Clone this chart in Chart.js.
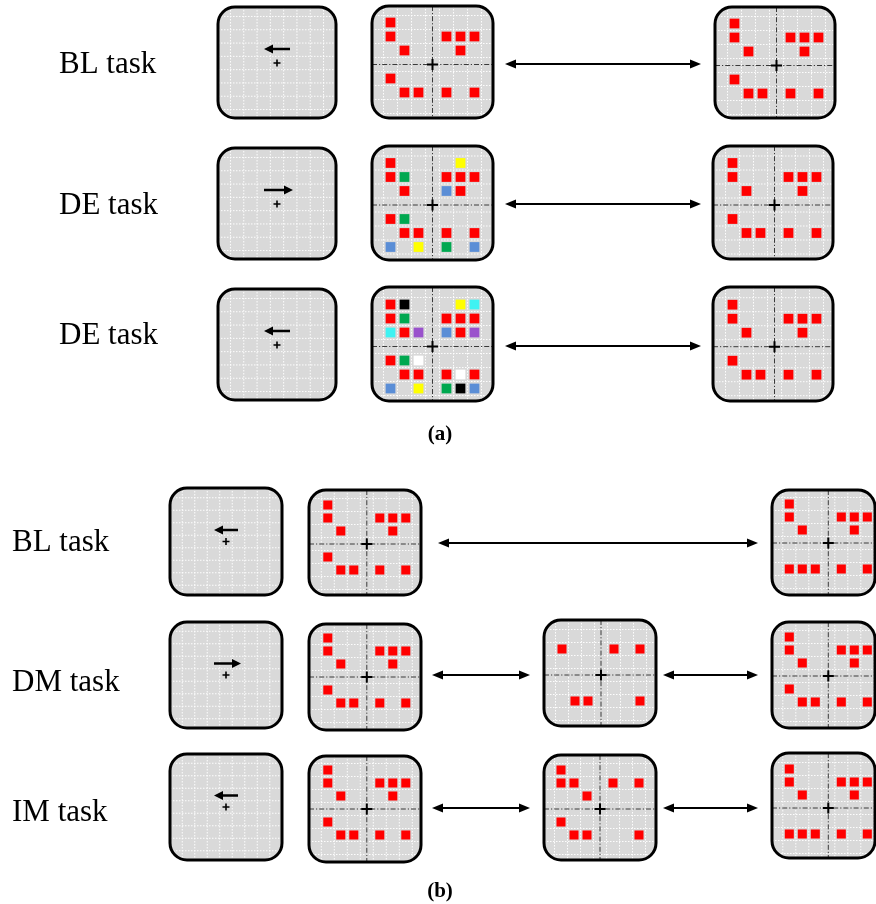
<!DOCTYPE html>
<html>
<head>
<meta charset="utf-8">
<script src="https://cdn.jsdelivr.net/npm/chart.js@4/dist/chart.umd.min.js"></script>
<style>
  html, body { margin: 0; padding: 0; background: #ffffff; }
  #wrap { width: 876px; height: 904px; }
</style>
</head>
<body>
<div id="wrap"><canvas id="c" width="876" height="904"></canvas></div>
<script>
// Row captions
const rowLabelsA = ['BL task', 'DE task', 'DE task'];
const rowLabelsB = ['BL task', 'DM task', 'IM task'];
const partLabels = ['(a)', '(b)'];
// Direction of the cue arrow in each row
const cueA = ['left', 'right', 'left'];
const cueB = ['left', 'right', 'left'];

// Square positions in grid cells relative to the fixation cross (x to the right, y downward)
const targetRed = [[-3,-3],[-3,-2],[-2,-1],[1,-2],[2,-2],[3,-2],[2,-1],[-3,1],[-2,2],[-1,2],[1,2],[3,2]];
const de1Yellow = [[2,-3],[-1,3]];
const de1Green  = [[-2,-2],[-2,1],[1,3]];
const de1Blue   = [[1,-1],[-3,3],[3,3]];
const de2Black  = [[-2,-3],[2,3]];
const de2Yellow = [[2,-3],[-1,3]];
const de2Cyan   = [[3,-3],[-3,-1]];
const de2Green  = [[-2,-2],[-2,1],[1,3]];
const de2Purple = [[-1,-1],[3,-1]];
const de2Blue   = [[1,-1],[-3,3],[3,3]];
const de2White  = [[-1,1],[2,2]];
const dmProbe   = [[-3,-2],[1,-2],[3,-2],[-2,2],[-1,2],[3,2]];
const imProbe   = [[-3,-3],[-3,-2],[-2,-2],[-1,-1],[1,-2],[3,-2],[-3,1],[-2,2],[-1,2],[3,2]];
const recallB   = [[-3,-3],[-3,-2],[-2,-1],[1,-2],[2,-2],[3,-2],[2,-1],[-3,2],[-2,2],[-1,2],[1,2],[3,2]];

// Colours
const COL = {
  red: '#ff0000', yellow: '#ffff00', green: '#00a850', blue: '#5b8ed6',
  cyan: '#3ef2f2', purple: '#9a52cc', black: '#000000', white: '#ffffff'
};

// Screen layout of each rounded display: box [x0,y0,x1,y1], grid origin, cell size
const panels = {
  a1c: { box: [218, 7, 336, 118],   o: [277, 63],      u: 13.3, cue: cueA[0] },
  a1s: { box: [372, 6, 493, 118],   o: [432.5, 64.5],  u: 14 },
  a1r: { box: [715, 7, 835, 118],   o: [776.5, 65.5],  u: 14 },
  a2c: { box: [218, 148, 336, 259], o: [277, 204],     u: 13.3, cue: cueA[1] },
  a2s: { box: [372, 146, 493, 260], o: [432.5, 205],   u: 14 },
  a2r: { box: [713, 146, 833, 259], o: [774.5, 205],   u: 14 },
  a3c: { box: [218, 289, 336, 400], o: [277, 345],     u: 13.3, cue: cueA[2] },
  a3s: { box: [372, 287, 493, 401], o: [432.5, 346.5], u: 14 },
  a3r: { box: [713, 287, 833, 401], o: [774.5, 346.7], u: 14 },
  b1c: { box: [170, 488, 282, 595], o: [226, 541.5],   u: 12.5, cue: cueB[0] },
  b1s: { box: [309, 490, 421, 595], o: [366.8, 544],   u: 13 },
  b1r: { box: [772, 490, 875, 595], o: [828.3, 543],   u: 13 },
  b2c: { box: [170, 622, 282, 728], o: [226, 675],     u: 12.5, cue: cueB[1] },
  b2s: { box: [309, 624, 421, 730], o: [366.8, 677],   u: 13 },
  b2m: { box: [544, 620, 656, 726], o: [601, 675],     u: 13 },
  b2r: { box: [772, 622, 875, 728], o: [828.3, 676],   u: 13 },
  b3c: { box: [170, 754, 282, 860], o: [226, 807],     u: 12.5, cue: cueB[2] },
  b3s: { box: [309, 756, 421, 862], o: [366.8, 809],   u: 13 },
  b3m: { box: [544, 755, 656, 860], o: [600, 809],     u: 13 },
  b3r: { box: [772, 753, 875, 858], o: [828.3, 808],   u: 13 }
};

// Which squares appear in which display
const contents = [
  ['a1s', targetRed, 'red'], ['a1r', targetRed, 'red'],
  ['a2s', targetRed, 'red'], ['a2s', de1Yellow, 'yellow'], ['a2s', de1Green, 'green'], ['a2s', de1Blue, 'blue'],
  ['a2r', targetRed, 'red'],
  ['a3s', targetRed, 'red'], ['a3s', de2Black, 'black'], ['a3s', de2Yellow, 'yellow'], ['a3s', de2Cyan, 'cyan'],
  ['a3s', de2Green, 'green'], ['a3s', de2Purple, 'purple'], ['a3s', de2Blue, 'blue'], ['a3s', de2White, 'white'],
  ['a3r', targetRed, 'red'],
  ['b1s', targetRed, 'red'], ['b1r', recallB, 'red'],
  ['b2s', targetRed, 'red'], ['b2m', dmProbe, 'red'], ['b2r', targetRed, 'red'],
  ['b3s', targetRed, 'red'], ['b3m', imProbe, 'red'], ['b3r', recallB, 'red']
];

// Double-headed arrows between displays: [x0, x1, y]
const links = [
  [505, 701, 64], [505, 701, 204], [505, 701, 346],
  [438, 758, 543], [432, 530, 675], [663, 758, 675], [432, 530, 808], [663, 758, 808]
];

const datasets = contents.map(([pid, cells, colour]) => {
  const p = panels[pid];
  const big = p.u >= 14;
  return {
    label: pid + '-' + colour,
    data: cells.map(([gx, gy]) => ({ x: p.o[0] + gx * p.u, y: p.o[1] + gy * p.u })),
    pointStyle: 'rect',
    pointRadius: big ? 6.9 : 6.4,
    pointBackgroundColor: COL[colour],
    pointBorderColor: COL[colour],
    pointBorderWidth: 0,
    showLine: false
  };
});

function roundPath(ctx, x0, y0, x1, y1, r) {
  ctx.beginPath();
  ctx.moveTo(x0 + r, y0);
  ctx.lineTo(x1 - r, y0);
  ctx.arcTo(x1, y0, x1, y0 + r, r);
  ctx.lineTo(x1, y1 - r);
  ctx.arcTo(x1, y1, x1 - r, y1, r);
  ctx.lineTo(x0 + r, y1);
  ctx.arcTo(x0, y1, x0, y1 - r, r);
  ctx.lineTo(x0, y0 + r);
  ctx.arcTo(x0, y0, x0 + r, y0, r);
  ctx.closePath();
}

function arrowHead(ctx, tipX, tipY, dir, len, half) {
  ctx.beginPath();
  ctx.moveTo(tipX, tipY);
  ctx.lineTo(tipX - dir * len, tipY - half);
  ctx.lineTo(tipX - dir * len, tipY + half);
  ctx.closePath();
  ctx.fill();
}

// Draws the grey rounded displays with their dotted grid, cross and cue
const displayPlugin = {
  id: 'displays',
  beforeDatasetsDraw(chart) {
    const ctx = chart.ctx;
    const xs = chart.scales.x, ys = chart.scales.y;
    Object.values(panels).forEach(p => {
      const x0 = xs.getPixelForValue(p.box[0]), x1 = xs.getPixelForValue(p.box[2]);
      const y0 = ys.getPixelForValue(p.box[1]), y1 = ys.getPixelForValue(p.box[3]);
      const ox = xs.getPixelForValue(p.o[0]), oy = ys.getPixelForValue(p.o[1]);
      const r = 17;
      ctx.save();
      roundPath(ctx, x0, y0, x1, y1, r);
      ctx.fillStyle = '#d9d9d9';
      ctx.fill();
      ctx.clip();
      // dotted white grid, lines between cells
      ctx.strokeStyle = 'rgba(255,255,255,0.95)';
      ctx.lineWidth = 1;
      ctx.setLineDash([1.5, 1.5]);
      for (let k = -6; k <= 5; k++) {
        const gx = ox + (k + 0.5) * p.u;
        const gy = oy + (k + 0.5) * p.u;
        ctx.beginPath(); ctx.moveTo(gx, y0); ctx.lineTo(gx, y1); ctx.stroke();
        ctx.beginPath(); ctx.moveTo(x0, gy); ctx.lineTo(x1, gy); ctx.stroke();
      }
      // dash-dot axes through the fixation point
      if (!p.cue) {
        ctx.strokeStyle = '#3a3a3a';
        ctx.lineWidth = 1;
        ctx.setLineDash([5, 2, 1.2, 2]);
        ctx.beginPath(); ctx.moveTo(ox, y0); ctx.lineTo(ox, y1); ctx.stroke();
        ctx.beginPath(); ctx.moveTo(x0, oy); ctx.lineTo(x1, oy); ctx.stroke();
      }
      ctx.setLineDash([]);
      // fixation cross
      const arm = p.cue ? 3.5 : 5.5;
      ctx.strokeStyle = '#000';
      ctx.lineWidth = p.cue ? 1.6 : 2;
      ctx.beginPath();
      ctx.moveTo(ox - arm, oy); ctx.lineTo(ox + arm, oy);
      ctx.moveTo(ox, oy - arm); ctx.lineTo(ox, oy + arm);
      ctx.stroke();
      // cue arrow above the cross
      if (p.cue) {
        const big = p.u > 13;
        const ay = oy - (big ? 14 : 11.5);
        const dir = p.cue === 'left' ? -1 : 1;
        const half = big ? 13 : 12;
        const tip = ox + dir * half + (dir > 0 ? 3 : 0);
        const tail = ox - dir * half;
        ctx.fillStyle = '#000';
        ctx.lineWidth = 2.4;
        ctx.beginPath(); ctx.moveTo(tail, ay); ctx.lineTo(tip - dir * 6, ay); ctx.stroke();
        arrowHead(ctx, tip, ay, dir, 9, 4.5);
      }
      ctx.restore();
      // outline
      ctx.save();
      roundPath(ctx, x0, y0, x1, y1, r);
      ctx.strokeStyle = '#000';
      ctx.lineWidth = 3;
      ctx.stroke();
      ctx.restore();
    });
  },
  afterDraw(chart) {
    const ctx = chart.ctx;
    const xs = chart.scales.x, ys = chart.scales.y;
    ctx.save();
    // double-headed arrows
    ctx.strokeStyle = '#000';
    ctx.fillStyle = '#000';
    ctx.lineWidth = 2;
    links.forEach(([a, b, y]) => {
      const xa = xs.getPixelForValue(a), xb = xs.getPixelForValue(b), py = ys.getPixelForValue(y);
      ctx.beginPath(); ctx.moveTo(xa + 6, py); ctx.lineTo(xb - 6, py); ctx.stroke();
      arrowHead(ctx, xa, py, -1, 11, 4.5);
      arrowHead(ctx, xb, py, 1, 11, 4.5);
    });
    // captions
    ctx.fillStyle = '#000';
    ctx.textAlign = 'left';
    ctx.textBaseline = 'alphabetic';
    ctx.font = '31px "Liberation Serif", "Times New Roman", serif';
    const baseA = [72.5, 213.5, 343.5];
    rowLabelsA.forEach((t, i) => ctx.fillText(t, xs.getPixelForValue(59), ys.getPixelForValue(baseA[i])));
    const baseB = [551, 691, 821];
    rowLabelsB.forEach((t, i) => ctx.fillText(t, xs.getPixelForValue(12), ys.getPixelForValue(baseB[i])));
    ctx.font = 'bold 21px "Liberation Serif", "Times New Roman", serif';
    ctx.textAlign = 'center';
    ctx.fillText(partLabels[0], xs.getPixelForValue(440), ys.getPixelForValue(440));
    ctx.fillText(partLabels[1], xs.getPixelForValue(440), ys.getPixelForValue(897));
    ctx.restore();
  }
};

new Chart(document.getElementById('c'), {
  type: 'scatter',
  data: { datasets },
  options: {
    responsive: false,
    animation: false,
    devicePixelRatio: 1,
    events: [],
    layout: { padding: 0, autoPadding: false },
    plugins: { legend: { display: false }, tooltip: { enabled: false } },
    scales: {
      x: { type: 'linear', min: 0, max: 876, display: false },
      y: { type: 'linear', min: 0, max: 904, reverse: true, display: false }
    }
  },
  plugins: [displayPlugin]
});
</script>
</body>
</html>
